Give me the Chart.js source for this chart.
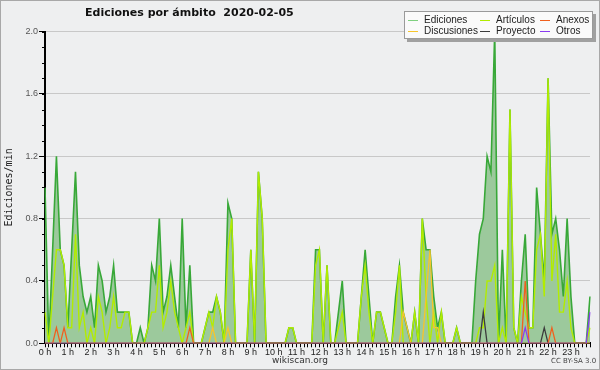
<!DOCTYPE html>
<html><head><meta charset="utf-8">
<script src="https://cdn.jsdelivr.net/npm/chart.js@4.4.0/dist/chart.umd.min.js"></script>
<style>
html,body{margin:0;padding:0;background:#eeeff0;}
#wrap{position:relative;width:600px;height:370px;overflow:hidden;background:#eeeff0;}
#c{position:absolute;left:0;top:0;}
#frame{position:absolute;left:0;top:0;width:598px;height:368px;border:1px solid #a8a8a8;pointer-events:none;}
#title{position:absolute;left:85px;top:6px;font:bold 11px "DejaVu Sans";color:#111;white-space:pre;}
#legend{position:absolute;left:404px;top:11px;width:187px;height:26px;background:#fafafa;border:1px solid #9a9a9a;box-shadow:3px 3px 0 #a0a0a0;font:10px "Liberation Sans";color:#222;}
.it{position:absolute;white-space:nowrap;line-height:10px;height:10px;}
.sw{position:absolute;width:10px;height:1px;}
#src{position:absolute;left:0;width:600px;top:355px;text-align:center;font:9px "DejaVu Sans";color:#333;}
#cc{position:absolute;left:551px;top:357px;font:7px "DejaVu Sans";color:#444;}
</style></head>
<body>
<div id="wrap">
<canvas id="c" width="600" height="370"></canvas>
<div id="title">Ediciones por ámbito  2020-02-05</div>
<div id="legend"></div>
<div id="src">wikiscan.org</div>
<div id="cc">CC BY-SA 3.0</div>
<div id="frame"></div>
</div>
<script>
// hour labels (one per 6 ten-minute slots)
const hourLabels = ['0 h','1 h','2 h','3 h','4 h','5 h','6 h','7 h','8 h','9 h','10 h','11 h',
  '12 h','13 h','14 h','15 h','16 h','17 h','18 h','19 h','20 h','21 h','22 h','23 h'];
const yTickLabels = ['0.0','0.4','0.8','1.2','1.6','2.0'];

// edits per minute, 10-minute slots, one row per hour
const ediciones = [
  1.0,0,0.6,1.2,0.6,0.5,   0.1,0.6,1.1,0.5,0.3,0.2,   0.3,0.1,0.5,0.4,0.2,0.3,   0.5,0.2,0.2,0.2,0.2,0,
  0,0.1,0,0.1,0.5,0.4,     0.8,0.2,0.3,0.5,0.3,0.1,   0.8,0.1,0.5,0,0,0,         0.1,0.2,0.2,0.3,0.2,0,
  0.9,0.8,0,0,0,0,         0.6,0,1.1,0.8,0,0,         0,0,0,0,0.1,0.1,           0,0,0,0,0,0.6,
  0.6,0,0.5,0,0,0.2,       0.4,0,0,0,0,0.3,           0.6,0.3,0,0.2,0.2,0.1,     0,0,0.3,0.5,0.2,0.1,
  0,0.2,0,0.8,0.6,0.6,     0.3,0.1,0.2,0,0,0,         0.1,0,0,0,0,0.4,           0.7,0.8,1.2,1.1,2.0,0,
  0.6,0,1.5,0.1,0,0.4,     0.7,0.1,0.1,1.0,0.7,0.4,   1.7,0.7,0.8,0.6,0.3,0.8,   0.3,0,0,0,0,0.3
];
const articulos = [
  0.2,0,0.3,0.6,0.6,0.5,   0.1,0.1,0.7,0.1,0.2,0,     0.1,0,0.3,0.2,0,0.1,       0.3,0.1,0.1,0.2,0.2,0,
  0,0,0,0.1,0.2,0.2,       0.5,0.1,0.2,0.4,0.2,0.1,   0,0.1,0.2,0,0,0,           0.1,0.2,0.1,0.3,0.2,0,
  0.6,0.8,0,0,0,0,         0.6,0,1.1,0.8,0,0,         0,0,0,0,0.1,0.1,           0,0,0,0,0,0.5,
  0.6,0,0.5,0,0,0.1,       0.2,0,0,0,0,0.3,           0.5,0.2,0,0.2,0.2,0.1,     0,0,0.2,0.5,0,0,
  0,0.2,0,0.8,0.3,0,       0.2,0,0.2,0,0,0,           0.1,0,0,0,0,0,             0.1,0.1,0.4,0.4,0.5,0,
  0.1,0,1.5,0.1,0,0.3,     0.2,0.1,0.1,0.6,0.7,0.3,   1.7,0.4,0.7,0.2,0.2,0.4,   0.1,0,0,0,0,0.1
];
const anexos = [
  0,0,0,0.1,0,0.1,  0,0,0,0,0,0,  0,0,0,0,0,0,  0,0,0,0,0,0,
  0,0,0,0,0,0,      0,0,0,0,0,0,  0,0,0.1,0,0,0, 0,0,0,0,0,0,
  0,0,0,0,0,0,      0,0,0,0,0,0,  0,0,0,0,0,0,  0,0,0,0,0,0,
  0,0,0,0,0,0,      0,0,0,0,0,0,  0,0,0,0,0,0,  0,0,0,0,0,0,
  0,0,0,0,0,0,      0,0,0,0,0,0,  0,0,0,0,0,0,  0,0,0,0,0,0,
  0,0,0,0,0,0,      0.4,0,0,0,0,0, 0,0.1,0,0,0,0, 0,0,0,0,0,0
];
const discusiones = [
  0,0,0,0,0,0,      0,0,0,0,0,0,  0,0,0,0,0,0,  0,0,0,0,0,0,
  0,0,0,0,0,0,      0,0,0,0,0,0,  0,0,0,0,0,0,  0,0,0.1,0,0,0,
  0.1,0,0,0,0,0,    0,0,0,0,0,0,  0,0,0,0,0,0,  0,0,0,0,0,0,
  0,0,0,0,0,0,      0,0,0,0,0,0,  0,0,0,0,0,0,  0,0,0,0,0.2,0.1,
  0,0,0,0,0.3,0.6,  0.1,0.1,0,0,0,0, 0,0,0,0,0,0, 0,0,0,0,0,0,
  0,0,0,0,0,0,      0,0,0,0,0,0,  0,0,0,0,0,0,  0,0,0,0,0,0
];
const proyecto = [
  0,0,0,0,0,0,  0,0,0,0,0,0,  0,0,0,0,0,0,  0,0,0,0,0,0,
  0,0,0,0,0,0,  0,0,0,0,0,0,  0,0,0,0,0,0,  0,0,0,0,0,0,
  0,0,0,0,0,0,  0,0,0,0,0,0,  0,0,0,0,0,0,  0,0,0,0,0,0,
  0,0,0,0,0,0,  0,0,0,0,0,0,  0,0,0,0,0,0,  0,0,0,0,0,0,
  0,0,0,0,0,0,  0,0,0,0,0,0,  0,0,0,0,0,0,  0,0.2,0,0,0,0,
  0,0,0,0,0,0,  0,0,0,0,0,0.1, 0,0,0,0,0,0,  0,0,0,0,0,0
];
const otros = [
  0,0,0,0,0,0,  0,0,0,0,0,0,  0,0,0,0,0,0,  0,0,0,0,0,0,
  0,0,0,0,0,0,  0,0,0,0,0,0,  0,0,0,0,0,0,  0,0,0,0,0,0,
  0,0,0,0,0,0,  0,0,0,0,0,0,  0,0,0,0,0,0,  0,0,0,0,0,0,
  0,0,0,0,0,0,  0,0,0,0,0,0,  0,0,0,0,0,0,  0,0,0,0,0,0,
  0,0,0,0,0,0,  0,0,0,0,0,0,  0,0,0,0,0,0,  0,0,0,0,0,0,
  0,0,0,0,0,0,  0.1,0,0,0,0,0, 0,0,0,0,0,0,  0,0,0,0,0,0.2
];

// category labels: hour label on the first slot of each hour
const slots = hourLabels.flatMap(h => [h, '', '', '', '', '']);

const series = [
  {label:'Ediciones',   data:ediciones,   color:'#38a838', width:1.6, fill:true,  order:6},
  {label:'Artículos',   data:articulos,   color:'#b2ec00', width:1.4, fill:false, order:5},
  {label:'Anexos',      data:anexos,      color:'#f0601e', width:1.3, fill:false, order:2},
  {label:'Discusiones', data:discusiones, color:'#f7c52a', width:1.3, fill:false, order:4},
  {label:'Proyecto',    data:proyecto,    color:'#3c3c3c', width:1.3, fill:false, order:3},
  {label:'Otros',       data:otros,       color:'#8a3cf0', width:1.3, fill:false, order:1}
];

// legend (HTML)
const legendEl = document.getElementById('legend');
const legendPos = [[3,3],[75,3],[135,3],[3,14],[75,14],[135,14]];
const legendOrder = ['Ediciones','Artículos','Anexos','Discusiones','Proyecto','Otros'];
const legendSwatch = {'Ediciones':'#7fd07f'};
legendOrder.forEach((name, k) => {
  const s = series.find(d => d.label === name);
  const sw = document.createElement('div');
  sw.className = 'sw';
  sw.style.left = legendPos[k][0] + 'px';
  sw.style.top = (legendPos[k][1] + 5) + 'px';
  sw.style.background = legendSwatch[name] || s.color;
  legendEl.appendChild(sw);
  const el = document.createElement('div');
  el.className = 'it';
  el.style.left = (legendPos[k][0] + 16) + 'px';
  el.style.top = legendPos[k][1] + 'px';
  el.textContent = name;
  legendEl.appendChild(el);
});

const minorTicks = {
  id: 'minorTicks',
  afterDraw(chart) {
    const y = chart.scales.y, ctx = chart.ctx;
    ctx.save();
    ctx.strokeStyle = '#000';
    ctx.lineWidth = 1;
    const step = 0.1;
    for (let v = y.min; v <= y.max + 1e-9; v += step) {
      const py = Math.round(y.getPixelForValue(v)) + 0.5;
      ctx.beginPath();
      ctx.moveTo(y.right - 3, py);
      ctx.lineTo(y.right, py);
      ctx.stroke();
    }
    ctx.restore();
  }
};

new Chart(document.getElementById('c'), {
  type: 'line',
  data: {
    labels: slots,
    datasets: series.map(s => ({
      label: s.label,
      data: s.data,
      borderColor: s.color,
      borderWidth: s.width,
      backgroundColor: s.fill ? '#9cc99c' : s.color,
      fill: s.fill ? 'origin' : false,
      pointRadius: 0,
      tension: 0,
      order: s.order
    }))
  },
  options: {
    responsive: false,
    animation: false,
    devicePixelRatio: 1,
    layout: {padding: {left: 0, right: 10, top: 31.6, bottom: 0}},
    plugins: {legend: {display: false}, title: {display: false}, tooltip: {enabled: false}},
    scales: {
      x: {
        type: 'category',
        offset: false,
        z: 1,
        grid: {drawOnChartArea: false, drawTicks: true, tickLength: 4, tickColor: '#000', color: '#000'},
        border: {display: true, color: '#000', width: 2},
        ticks: {
          autoSkip: false, maxRotation: 0, minRotation: 0, padding: 0,
          font: {family: 'Liberation Sans', size: 9}, color: '#222',
          callback: (v, i) => slots[i]
        },
        afterFit: s => { s.height = 26.7; }
      },
      y: {
        min: 0, max: 2,
        grid: {color: '#c8c8c8', tickColor: '#000', tickLength: 6, lineWidth: 1},
        border: {display: true, color: '#000', width: 2},
        ticks: {
          stepSize: 0.4, padding: 1,
          font: {family: 'Liberation Sans', size: 9}, color: '#555',
          callback: (v, i) => yTickLabels[i]
        },
        title: {display: true, text: 'Ediciones/min', font: {family: 'DejaVu Sans Mono', size: 10}, color: '#222', padding: {top: 3, bottom: 0}},
        afterFit: s => { s.width = 45; }
      }
    }
  },
  plugins: [minorTicks]
});
</script>
</body></html>
